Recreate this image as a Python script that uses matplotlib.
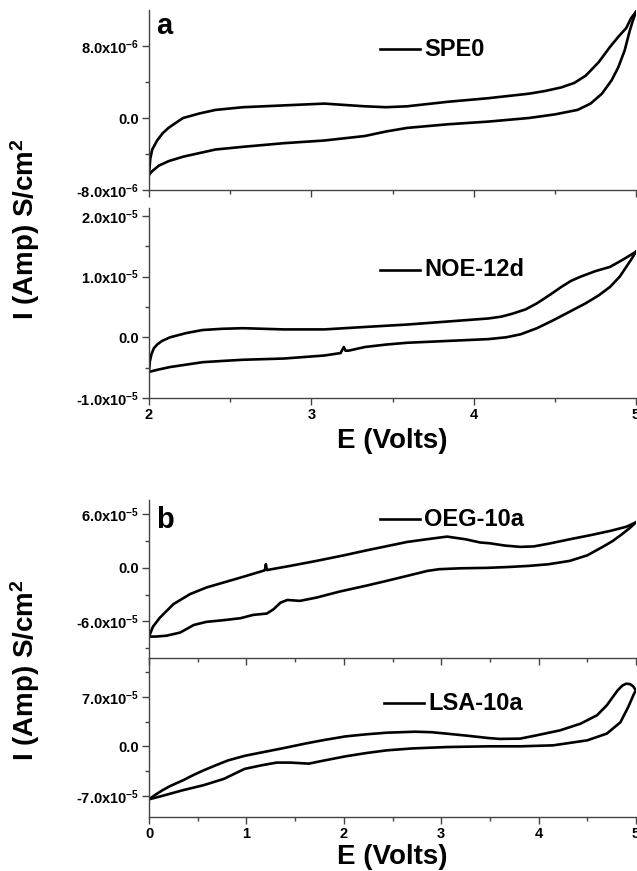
import matplotlib
matplotlib.use("Agg")
import matplotlib.pyplot as plt
from matplotlib.ticker import FixedLocator, MultipleLocator

plt.rcParams['font.family'] = ['Liberation Sans', 'DejaVu Sans']
plt.rcParams['font.weight'] = 'bold'
plt.rcParams['mathtext.fontset'] = 'custom'
plt.rcParams['mathtext.rm'] = 'Liberation Sans:bold'
plt.rcParams['mathtext.bf'] = 'Liberation Sans:bold'
plt.rcParams['mathtext.it'] = 'Liberation Sans:bold'

# ---- SPE0 (panel a, top), current in units of 1e-6 ----
spe0_fwd_E = [2.0, 2.02, 2.06, 2.12, 2.21, 2.31, 2.41, 2.58, 2.83, 3.08, 3.33, 3.46,
              3.59, 3.84, 4.09, 4.34, 4.50, 4.64, 4.72, 4.79, 4.85, 4.89, 4.93, 4.96,
              4.98, 5.0]
spe0_fwd_I = [-6.3, -5.9, -5.3, -4.8, -4.3, -3.9, -3.5, -3.2, -2.8, -2.5, -2.0, -1.5,
              -1.1, -0.7, -0.4, 0.0, 0.4, 0.9, 1.6, 2.7, 4.2, 5.6, 7.5, 9.6, 10.8, 11.8]
spe0_rev_E = [5.0, 4.97, 4.94, 4.89, 4.84, 4.77, 4.69, 4.62, 4.54, 4.44, 4.34, 4.09,
              3.84, 3.59, 3.46, 3.33, 3.08, 2.83, 2.58, 2.41, 2.31, 2.21, 2.16, 2.12,
              2.084, 2.05, 2.02, 2.008, 2.0]
spe0_rev_I = [11.8, 11.1, 10.0, 9.0, 7.9, 6.2, 4.7, 3.9, 3.4, 3.0, 2.7, 2.2, 1.8, 1.3,
              1.2, 1.3, 1.6, 1.4, 1.2, 0.9, 0.5, 0.0, -0.6, -1.1, -1.7, -2.5, -3.5,
              -4.5, -6.3]

# ---- NOE-12d (panel a, bottom), current in units of 1e-5 ----
noe_fwd_E = [2.0, 2.06, 2.13, 2.23, 2.33, 2.45, 2.58, 2.83, 3.08, 3.18, 3.2, 3.21,
             3.23, 3.33, 3.46, 3.59, 3.84, 4.09, 4.2, 4.29, 4.39, 4.49, 4.59, 4.69,
             4.77, 4.84, 4.9, 4.94, 4.97, 5.0]
noe_fwd_I = [-0.57, -0.53, -0.49, -0.45, -0.41, -0.39, -0.37, -0.35, -0.30, -0.26,
             -0.16, -0.22, -0.22, -0.16, -0.12, -0.09, -0.06, -0.03, 0.0, 0.05, 0.15,
             0.28, 0.42, 0.56, 0.69, 0.83, 1.0, 1.16, 1.28, 1.41]
noe_rev_E = [5.0, 4.92, 4.84, 4.75, 4.66, 4.6, 4.54, 4.47, 4.39, 4.32, 4.24, 4.17,
             4.09, 3.84, 3.59, 3.33, 3.08, 2.83, 2.58, 2.45, 2.33, 2.23, 2.13, 2.08,
             2.05, 2.03, 2.015, 2.005, 2.0]
noe_rev_I = [1.41, 1.28, 1.16, 1.09, 1.0, 0.93, 0.83, 0.70, 0.56, 0.46, 0.39, 0.34,
             0.31, 0.26, 0.21, 0.17, 0.13, 0.13, 0.15, 0.14, 0.12, 0.07, 0.0, -0.06,
             -0.12, -0.18, -0.28, -0.40, -0.57]

# ---- OEG-10a (panel b, top), current in units of 1e-5 ----
oeg_fwd_E = [0.0, 0.07, 0.18, 0.32, 0.46, 0.59, 0.76, 0.94, 1.07, 1.21, 1.28, 1.35,
             1.42, 1.55, 1.72, 1.96, 2.23, 2.44, 2.65, 2.86, 2.98, 3.2, 3.48, 3.7,
             3.9, 4.1, 4.32, 4.5, 4.65, 4.76, 4.86, 4.94, 5.0]
oeg_fwd_I = [-7.7, -7.7, -7.6, -7.25, -6.4, -6.05, -5.87, -5.64, -5.27, -5.12, -4.63,
             -3.9, -3.6, -3.7, -3.33, -2.65, -2.0, -1.46, -0.9, -0.34, -0.15, -0.05,
             0.0, 0.1, 0.22, 0.4, 0.78, 1.4, 2.3, 3.0, 3.8, 4.5, 5.1]
oeg_rev_E = [5.0, 4.9, 4.74, 4.55, 4.32, 4.1, 3.95, 3.81, 3.65, 3.5, 3.4, 3.25, 3.06,
             2.85, 2.65, 2.23, 2.0, 1.72, 1.45, 1.21, 1.2, 1.19, 1.17, 0.94, 0.59,
             0.42, 0.25, 0.11, 0.04, 0.0]
oeg_rev_I = [5.1, 4.6, 4.15, 3.7, 3.2, 2.7, 2.4, 2.35, 2.5, 2.75, 2.84, 3.2, 3.5, 3.2,
             2.9, 1.95, 1.4, 0.78, 0.22, -0.25, 0.41, -0.25, -0.34, -1.09, -2.2,
             -2.95, -4.07, -5.6, -6.6, -7.7]

# ---- LSA-10a (panel b, bottom), current in units of 1e-5 ----
lsa_fwd_E = [0.0, 0.14, 0.35, 0.56, 0.77, 0.98, 1.15, 1.31, 1.45, 1.64, 1.8, 2.02,
             2.23, 2.44, 2.7, 3.06, 3.48, 3.81, 4.15, 4.5, 4.7, 4.84, 4.92, 4.98, 5.0]
lsa_fwd_I = [-7.5, -7.0, -6.2, -5.5, -4.6, -3.2, -2.7, -2.3, -2.3, -2.45, -2.0, -1.41,
             -0.95, -0.57, -0.3, -0.1, 0.0, 0.0, 0.14, 0.85, 1.8, 3.4, 5.56, 7.45, 7.9]
lsa_rev_E = [5.0, 4.97, 4.94, 4.90, 4.86, 4.81, 4.70, 4.60, 4.43, 4.22, 3.98, 3.81,
             3.6, 3.48, 3.27, 3.06, 2.9, 2.73, 2.44, 2.23, 2.02, 1.8, 1.6, 1.4, 1.18,
             0.98, 0.81, 0.7, 0.56, 0.45, 0.35, 0.22, 0.14, 0.06, 0.0]
lsa_rev_I = [7.9, 8.5, 8.8, 8.87, 8.6, 7.9, 5.8, 4.4, 3.2, 2.26, 1.56, 1.09, 1.05,
             1.18, 1.5, 1.79, 2.0, 2.07, 1.93, 1.7, 1.41, 0.9, 0.38, -0.2, -0.8,
             -1.35, -2.0, -2.6, -3.4, -4.1, -4.8, -5.6, -6.2, -6.9, -7.5]

W, H = 637, 871
fig = plt.figure(figsize=(W / 100, H / 100), dpi=100)

SPINE = '#444444'
TICK_FS = 10.5
LW = 1.9


def box(left, top, right, bottom):
    return [left / W, 1 - bottom / H, (right - left) / W, (bottom - top) / H]


def sci(mant, exp):
    return f'{mant}x10$^{{{exp}}}$'


def style(ax, xlim, ylim, yticks, ylabels, yminor, show_x):
    ax.set_xlim(*xlim)
    ax.set_ylim(*ylim)
    ax.patch.set_visible(False)
    for s in ('top', 'right'):
        ax.spines[s].set_visible(False)
    for s in ('left', 'bottom'):
        ax.spines[s].set_color(SPINE)
        ax.spines[s].set_linewidth(1.0)
    ax.yaxis.set_major_locator(FixedLocator(yticks))
    ax.set_yticklabels(ylabels)
    ax.yaxis.set_minor_locator(FixedLocator(yminor))
    ax.xaxis.set_major_locator(MultipleLocator(1))
    ax.xaxis.set_minor_locator(MultipleLocator(0.5))
    ax.tick_params(which='both', direction='out', color=SPINE, width=1.0,
                   labelsize=TICK_FS, pad=2)
    ax.tick_params(which='major', length=5)
    ax.tick_params(which='minor', length=3)
    if not show_x:
        ax.tick_params(axis='x', labelbottom=False)
    for lab in ax.get_yticklabels() + ax.get_xticklabels():
        lab.set_fontweight('bold')


def legend_entry(x0, y, text):
    fig.add_artist(plt.Line2D([x0 / W, (x0 + 40) / W], [1 - y / H, 1 - y / H],
                              color='black', lw=1.9))
    fig.text((x0 + 44) / W, 1 - y / H, text, fontsize=17, fontweight='bold',
             va='center', ha='left')


# Panel a, top: SPE0
ax1 = fig.add_axes(box(149, 10, 636, 190))
ax1.plot(spe0_fwd_E, [i * 1e-6 for i in spe0_fwd_I], color='black', lw=LW)
ax1.plot(spe0_rev_E, [i * 1e-6 for i in spe0_rev_I], color='black', lw=LW)
style(ax1, (2, 5), (-8e-6, 1.2e-5), [-8e-6, 0, 8e-6],
      [sci('-8.0', '-6'), '0.0', sci('8.0', '-6')], [-4e-6, 4e-6], False)

# Panel a, bottom: NOE-12d
ax2 = fig.add_axes(box(149, 208, 636, 398))
ax2.plot(noe_fwd_E, [i * 1e-5 for i in noe_fwd_I], color='black', lw=LW)
ax2.plot(noe_rev_E, [i * 1e-5 for i in noe_rev_I], color='black', lw=LW)
style(ax2, (2, 5), (-1e-5, 2.13e-5), [-1e-5, 0, 1e-5, 2e-5],
      [sci('-1.0', '-5'), '0.0', sci('1.0', '-5'), sci('2.0', '-5')],
      [-5e-6, 5e-6, 1.5e-5], True)

# Panel b, bottom: LSA-10a (drawn first so the upper axis line stays on top)
ax4 = fig.add_axes(box(149, 658, 636, 817))
ax4.plot(lsa_fwd_E, [i * 1e-5 for i in lsa_fwd_I], color='black', lw=LW)
ax4.plot(lsa_rev_E, [i * 1e-5 for i in lsa_rev_I], color='black', lw=LW)
style(ax4, (0, 5), (-1.0e-4, 1.25e-4), [-7e-5, 0, 7e-5],
      [sci('-7.0', '-5'), '0.0', sci('7.0', '-5')], [-3.5e-5, 3.5e-5, 1.05e-4], True)

# Panel b, top: OEG-10a
ax3 = fig.add_axes(box(149, 500, 636, 658))
ax3.plot(oeg_fwd_E, [i * 1e-5 for i in oeg_fwd_I], color='black', lw=LW)
ax3.plot(oeg_rev_E, [i * 1e-5 for i in oeg_rev_I], color='black', lw=LW)
style(ax3, (0, 5), (-1.01e-4, 7.6e-5), [-6e-5, 0, 6e-5],
      [sci('-6.0', '-5'), '0.0', sci('6.0', '-5')], [-9e-5, -3e-5, 3e-5], False)

# Legends and panel letters
legend_entry(380, 49, 'SPE0')
legend_entry(380, 270, 'NOE-12d')
legend_entry(380, 519, 'OEG-10a')
legend_entry(384, 703, 'LSA-10a')
fig.text(156 / W, 1 - 26 / H, 'a', fontsize=21, fontweight='bold', va='center')
fig.text(156 / W, 1 - 520 / H, 'b', fontsize=21, fontweight='bold', va='center')

# Axis titles
for yc in (229, 670):
    fig.text(25 / W, 1 - yc / H, 'I (Amp) S/cm$^{2}$', fontsize=20, fontweight='bold',
             rotation=90, ha='center', va='center')
fig.text(392 / W, 1 - 441 / H, 'E (Volts)', fontsize=20, fontweight='bold',
         ha='center', va='center')
fig.text(392 / W, 1 - 857 / H, 'E (Volts)', fontsize=20, fontweight='bold',
         ha='center', va='center')

fig.savefig('out.png', dpi=100)
